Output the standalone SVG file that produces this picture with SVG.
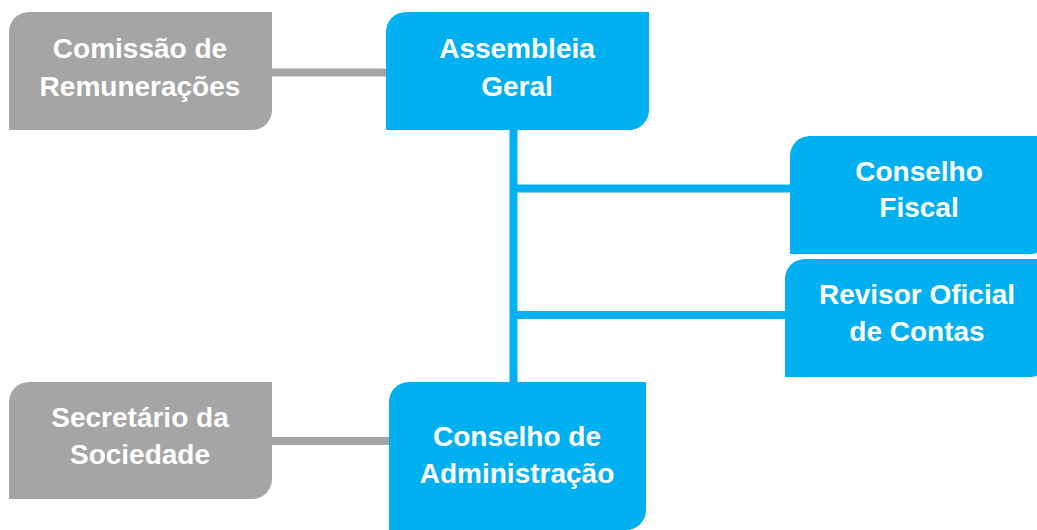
<svg xmlns="http://www.w3.org/2000/svg" width="1037" height="530" viewBox="0 0 1037 530">
<style>
.gray{fill:#A5A5A5}
.blue{fill:#00B0F0}
.lbl{font-family:"Liberation Sans",Arial,sans-serif;font-weight:bold;font-size:28px;fill:#FFFFFF;text-anchor:middle}
.cg{stroke:#A5A5A5;stroke-width:8;fill:none}
.cb{stroke:#00B0F0;stroke-width:8;fill:none}
</style>
<rect width="1037" height="530" fill="#FFFFFF"/>
<g id="connectors">
<line class="cg" x1="272" y1="72.5" x2="388" y2="72.5"/>
<line class="cg" x1="272" y1="441" x2="391" y2="441"/>
<line class="cb" x1="513.5" y1="128" x2="513.5" y2="384"/>
<line class="cb" x1="513.5" y1="188.5" x2="792" y2="188.5"/>
<line class="cb" x1="513.5" y1="315" x2="787" y2="315"/>
</g>
<g id="comissao">
<path class="gray" d="M29,12 H272 V110 A20,20 0 0 1 252,130 H9 V32 A20,20 0 0 1 29,12 Z"/>
<text class="lbl" x="140" y="58">Comissão de</text>
<text class="lbl" x="140" y="96">Remunerações</text>
</g>
<g id="assembleia">
<path class="blue" d="M406,12 H649 V110 A20,20 0 0 1 629,130 H386 V32 A20,20 0 0 1 406,12 Z"/>
<text class="lbl" x="517" y="58">Assembleia</text>
<text class="lbl" x="517" y="96">Geral</text>
</g>
<g id="conselho-fiscal">
<path class="blue" d="M810,136 H1050 V234 A20,20 0 0 1 1030,254 H790 V156 A20,20 0 0 1 810,136 Z"/>
<text class="lbl" x="919" y="181">Conselho</text>
<text class="lbl" x="919" y="217">Fiscal</text>
</g>
<g id="revisor">
<path class="blue" d="M805,259 H1050 V357 A20,20 0 0 1 1030,377 H785 V279 A20,20 0 0 1 805,259 Z"/>
<text class="lbl" x="917" y="304">Revisor Oficial</text>
<text class="lbl" x="917" y="341">de Contas</text>
</g>
<g id="secretario">
<path class="gray" d="M29,382 H272 V479 A20,20 0 0 1 252,499 H9 V402 A20,20 0 0 1 29,382 Z"/>
<text class="lbl" x="140" y="427">Secretário da</text>
<text class="lbl" x="140" y="464">Sociedade</text>
</g>
<g id="conselho-administracao">
<path class="blue" d="M409,382 H646 V510 A20,20 0 0 1 626,530 H389 V402 A20,20 0 0 1 409,382 Z"/>
<text class="lbl" x="517" y="446">Conselho de</text>
<text class="lbl" x="517" y="483">Administração</text>
</g>
</svg>
